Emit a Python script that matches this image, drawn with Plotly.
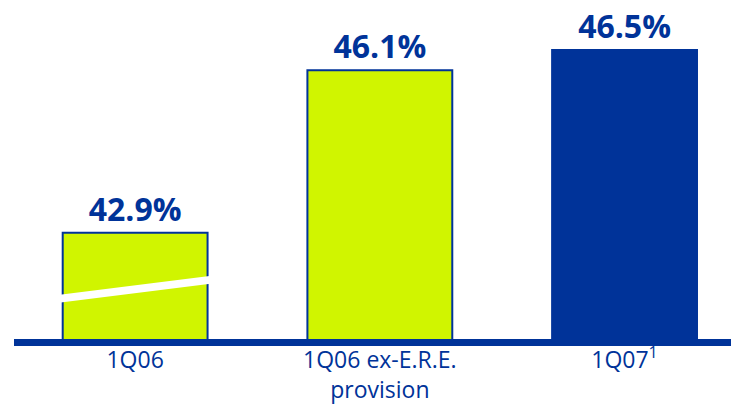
import plotly.graph_objects as go

categories = ["1Q06", "1Q06 ex-E.R.E.<br>provision", "1Q07<sup>1</sup>"]
values = [42.9, 46.1, 46.5]
value_labels = ["42.9%", "46.1%", "46.5%"]
fill_colors = ["#D0F500", "#D0F500", "#003399"]

NAVY = "#003399"
y_base = 40.805
y_top = 47.484
bar_w = 0.592

fig = go.Figure()
fig.add_trace(go.Bar(
    x=categories,
    y=values,
    text=value_labels,
    textposition="outside",
    cliponaxis=False,
    marker=dict(color=fill_colors, line=dict(color=NAVY, width=2)),
    textfont=dict(family="Open Sans", size=32, color=NAVY, weight="bold"),
    width=bar_w,
))

# broken-axis indicator (white stripe) on the first bar
fig.add_shape(type="line", xref="x", yref="y",
              x0=0 - bar_w / 2 - 0.01, x1=0 + bar_w / 2 + 0.01, y0=41.6, y1=41.97,
              line=dict(color="white", width=8))

fig.update_layout(
    width=731, height=405,
    margin=dict(l=0, r=0, t=0, b=65.5, autoexpand=False),
    paper_bgcolor="white", plot_bgcolor="white",
    showlegend=False,
    xaxis=dict(domain=[14 / 731, 1], range=[-0.495, 2.435], automargin=False,
               showline=True, linewidth=7, linecolor=NAVY,
               showgrid=False, zeroline=False, ticks="", ticklabelstandoff=-6,
               tickfont=dict(family="Open Sans", size=23, color=NAVY)),
    yaxis=dict(range=[y_base, y_top], visible=False, showgrid=False, zeroline=False,
               automargin=False),
)

fig.write_html("out.html")
